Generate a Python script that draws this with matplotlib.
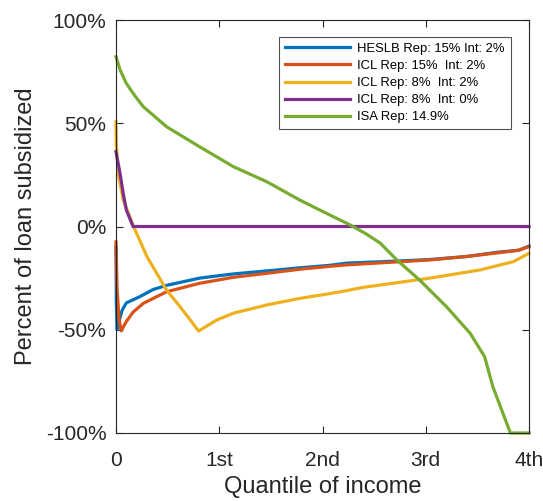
import matplotlib
matplotlib.use("Agg")
import matplotlib.pyplot as plt

plt.rcParams['font.family'] = ['Liberation Sans', 'DejaVu Sans']

# Quantile of income (0 = bottom, 4 = top) and percent of loan subsidized
heslb_x = [0, 0.003, 0.01, 0.04, 0.06, 0.10, 0.23, 0.36, 0.49, 0.81, 1.13, 1.46, 1.78, 2.07, 2.24, 2.6, 3.04, 3.4, 3.69, 3.9, 4.0]
heslb_y = [-10, -35, -50, -44, -40.5, -37, -34, -30.5, -28.5, -25, -23, -21.5, -20, -18.8, -17.7, -17, -16, -14.5, -12.5, -11.5, -9.5]

icl15_x = [0, 0.01, 0.03, 0.05, 0.10, 0.165, 0.265, 0.49, 0.81, 1.136, 1.455, 1.78, 2.07, 2.23, 2.6, 3.04, 3.4, 3.69, 3.9, 4.0]
icl15_y = [-7.5, -30, -45, -50.5, -46, -41.5, -37.2, -31.6, -27.5, -24.6, -22.7, -20.7, -19.3, -18.6, -17.5, -16.2, -14.5, -12.8, -11.5, -9.7]

icl8_x = [0, 0.003, 0.02, 0.07, 0.17, 0.3, 0.49, 0.62, 0.72, 0.80, 0.975, 1.136, 1.46, 1.78, 2.07, 2.23, 2.39, 3.04, 3.53, 3.85, 4.0]
icl8_y = [50.7, 40, 25.8, 12.8, 0, -14.6, -30.8, -38.8, -45.3, -50.6, -45.3, -42, -38, -34.8, -32.5, -31.1, -29.5, -25, -21, -17, -13]

icl8_0_x = [0, 0.039, 0.07, 0.10, 0.165, 1.0, 2.0, 3.0, 4.0]
icl8_0_y = [36.2, 25.8, 16, 8, 0, 0, 0, 0, 0]

isa_x = [0, 0.04, 0.10, 0.18, 0.265, 0.49, 0.81, 1.136, 1.46, 1.78, 2.07, 2.27, 2.42, 2.56, 2.72, 2.94, 3.2, 3.43, 3.57, 3.65, 3.82, 4.0]
isa_y = [82.2, 75.8, 69.3, 63.5, 58, 48.3, 38.6, 29, 21.7, 12.8, 5.6, 0.7, -3.5, -8.1, -16.2, -25.9, -38.8, -51.7, -63, -77.6, -100, -100]

series = [
    (heslb_x, heslb_y, 'HESLB Rep: 15% Int: 2%', '#0072BD'),
    (icl15_x, icl15_y, 'ICL Rep: 15%  Int: 2%', '#D95319'),
    (icl8_x, icl8_y, 'ICL Rep: 8%  Int: 2%', '#EDB120'),
    (icl8_0_x, icl8_0_y, 'ICL Rep: 8%  Int: 0%', '#7E2F8E'),
    (isa_x, isa_y, 'ISA Rep: 14.9%', '#77AC30'),
]

x_ticks = [0, 1, 2, 3, 4]
x_tick_labels = ['0', '1st', '2nd', '3rd', '4th']
y_ticks = [-100, -50, 0, 50, 100]
y_tick_labels = ['-100%', '-50%', '0%', '50%', '100%']

fig = plt.figure(figsize=(5.43, 5.01), dpi=100)
ax = fig.add_axes([116/543, 1 - 433/501, 413/543, 413/501])

for xs, ys, label, color in series:
    ax.plot(xs, ys, color=color, lw=2.3, label=label, clip_on=False,
            solid_joinstyle='round')

ax.set_xlim(0, 4)
ax.set_ylim(-100, 100)
ax.set_xticks(x_ticks)
ax.set_xticklabels(x_tick_labels)
ax.set_yticks(y_ticks)
ax.set_yticklabels(y_tick_labels)

dark = '#262626'
for s in ax.spines.values():
    s.set_color(dark)
    s.set_linewidth(0.8)
ax.tick_params(direction='in', length=5, width=0.8, colors=dark,
               labelsize=15, top=True, right=True)
ax.tick_params(axis='x', pad=13)
ax.tick_params(axis='y', pad=7)
ax.set_xlabel('Quantile of income', fontsize=17, color=dark, labelpad=4.5)
ax.set_ylabel('Percent of loan subsidized', fontsize=17, color=dark, labelpad=6)

leg = ax.legend(loc='upper right', bbox_to_anchor=(0.956, 0.959),
                fontsize=9.4, frameon=True, fancybox=False, edgecolor=dark,
                handlelength=5.0, handletextpad=0.55, labelspacing=0.38,
                borderpad=0.45, borderaxespad=0)
leg.get_frame().set_linewidth(0.8)
for h in leg.get_lines():
    h.set_linewidth(2.3)

fig.savefig('out.png', dpi=100)
